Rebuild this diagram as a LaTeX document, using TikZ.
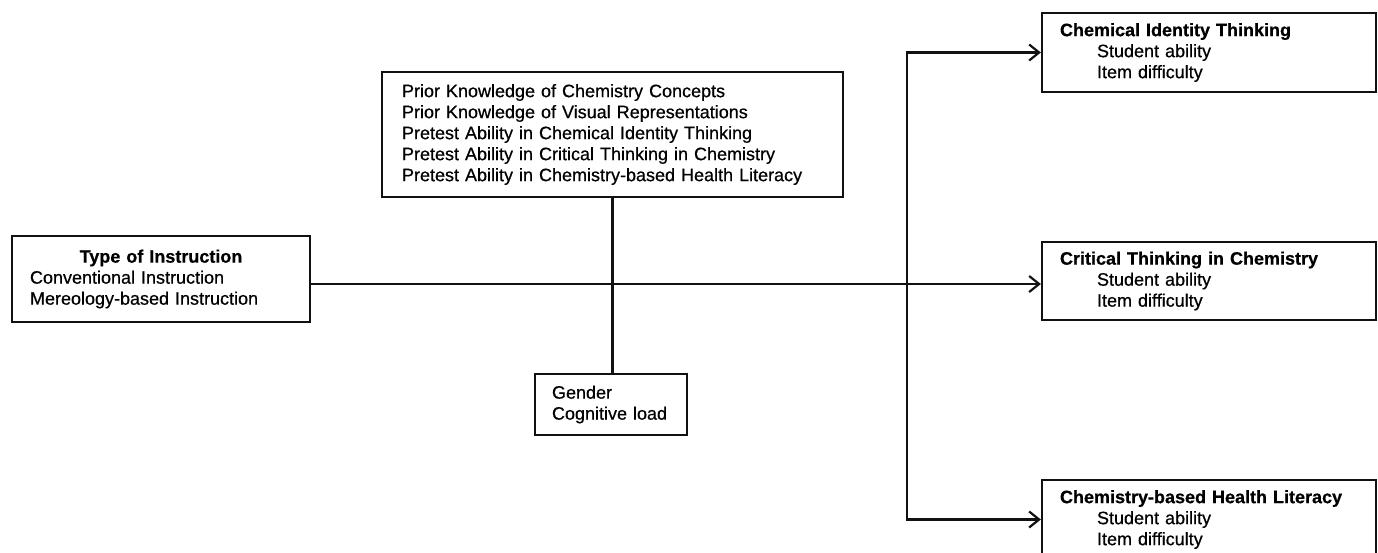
\documentclass[tikz,border=0pt]{standalone}
\usepackage{fontspec}
\setmainfont[FakeBold=0.6]{Liberation Sans}
\usepackage{tikz}
\usetikzlibrary{positioning, arrows.meta}
\definecolor{inkBlack}{HTML}{111111}
\definecolor{paperWhite}{HTML}{FFFFFF}

\tikzset{
  varbox/.style={draw=inkBlack, fill=paperWhite, line width=2.2pt, align=left,
    inner ysep=0pt, font=\fontsize{18}{21}\selectfont},
  link/.style={draw=inkBlack, line width=2.2pt},
  barb/.style={-{Straight Barb[length=10pt, width=16pt]}}
}

\begin{document}
\begin{tikzpicture}[x=1pt, y=-1pt]
    % Page frame
    \useasboundingbox (0,0) rectangle (1378,552);
    \clip (0,0) rectangle (1378,552);
    % Independent variable
    \node[varbox, minimum width=298pt, minimum height=86pt, text width=262pt,
      inner xsep=18pt] (instr) at (161,279)
      {\makebox[262pt]{\textbf{Type of Instruction}}\\
       Conventional Instruction\\Mereology-based Instruction};
    % Covariates
    \node[varbox, minimum width=461pt, minimum height=125pt, text width=421pt,
      inner xsep=20pt] (prior) at (612.5,134.5)
      {Prior Knowledge of Chemistry Concepts\\
       Prior Knowledge of Visual Representations\\
       Pretest Ability in Chemical Identity Thinking\\
       Pretest Ability in Critical Thinking in Chemistry\\
       Pretest Ability in Chemistry-based Health Literacy};
    \node[varbox, minimum width=152pt, minimum height=61pt, text width=118pt,
      inner xsep=17pt] (gender) at (611,404.5)
      {Gender\\Cognitive load};
    % Outcomes
    \node[varbox, minimum width=334pt, minimum height=79pt, text width=298pt,
      inner xsep=18pt] (cit) at (1209,52.5)
      {\textbf{Chemical Identity Thinking}\\
       \hspace*{37pt}Student ability\\\hspace*{37pt}Item difficulty};
    \node[varbox, minimum width=334pt, minimum height=78pt, text width=298pt,
      inner xsep=18pt] (ctc) at (1209,281)
      {\textbf{Critical Thinking in Chemistry}\\
       \hspace*{37pt}Student ability\\\hspace*{37pt}Item difficulty};
    \node[varbox, minimum width=334pt, minimum height=79pt, text width=298pt,
      inner xsep=18pt] (chl) at (1209,519.5)
      {\textbf{Chemistry-based Health Literacy}\\
       \hspace*{37pt}Student ability\\\hspace*{37pt}Item difficulty};
    % Connectors
    \coordinate (split) at (907,284);
    \draw[link, barb] (instr.east |- split) -- (split) -- (split -| ctc.west);
    \draw[link] (prior.south) -- (prior.south |- gender.north);
    \draw[link, {Straight Barb[length=10pt, width=16pt]}-{Straight Barb[length=10pt, width=16pt]}]
      (cit.west) -| (split) |- (chl.west);
  \end{tikzpicture}
\end{document}
